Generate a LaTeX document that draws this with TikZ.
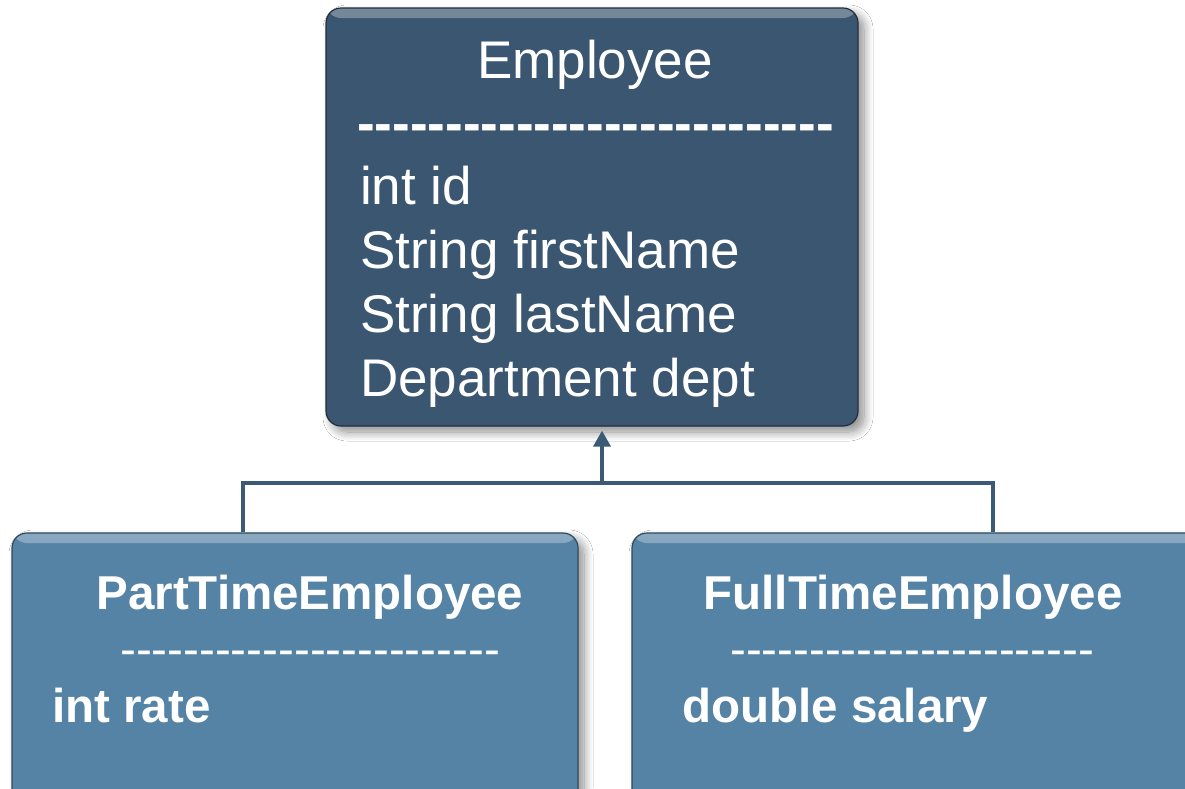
\documentclass[tikz,border=0pt]{standalone}
\usepackage{fontspec}
\setmainfont{Liberation Sans}
\usetikzlibrary{arrows.meta,shadows.blur}
\definecolor{baseDark}{HTML}{3A5670}
\definecolor{baseLight}{HTML}{5583A5}
\definecolor{linkCol}{HTML}{3A5A76}
% a row of separate hyphens (no dash ligatures)
\newcount\hycount
\newcommand\hyphenrow[1]{\hycount=0 \loop -{}\advance\hycount by 1 \ifnum\hycount<#1\repeat}
\tikzset{
  classbox/.style={rounded corners=15pt, draw=#1!55!black, line width=1.2pt, fill=#1,
    blur shadow={shadow xshift=6pt, shadow yshift=-6pt, shadow blur steps=14, shadow blur radius=9pt, shadow opacity=45},
    path picture={\shade[top color=#1!70!white, bottom color=#1]
      (path picture bounding box.north west) rectangle ([yshift=-10pt]path picture bounding box.north east);},
    inner sep=0pt},
  bigtxt/.style={text=white, inner sep=0pt, font=\fontsize{53}{64}\selectfont},
  subtxt/.style={text=white, inner sep=0pt, font=\fontsize{47.5}{57}\selectfont\bfseries},
  link/.style={draw=linkCol, line width=3.5pt}
}
\begin{document}
\begin{tikzpicture}[x=1pt, y=-1pt]
\clip (0,0) rectangle (1185,788);
\fill[white] (0,0) rectangle (1185,788);

% class boxes
\node[classbox=baseDark, minimum width=532pt, minimum height=418pt] (emp) at (592,217) {};
\node[classbox=baseLight, minimum width=566pt, minimum height=280pt] (pt) at (295,673) {};
\node[classbox=baseLight, minimum width=570pt, minimum height=280pt] (ft) at (917,673) {};

% Employee contents
\node[bigtxt, anchor=base] (empT) at (595,78) {Employee};
\node[bigtxt, anchor=base west, font=\fontsize{53}{64}\selectfont\bfseries] (empD) at (357,141) {\hyphenrow{27}};
\node[bigtxt, anchor=base west] (empA) at (360,204) {int id};
\node[bigtxt, anchor=base west] (empB) at (360,268) {String firstName};
\node[bigtxt, anchor=base west] (empC) at (360,332) {String lastName};
\node[bigtxt, anchor=base west] (empE) at (360,396) {Department dept};

% PartTimeEmployee contents
\node[subtxt, anchor=base] (ptT) at (310,609) {PartTimeEmployee};
\node[subtxt, anchor=base west, font=\fontsize{47.5}{57}\selectfont] (ptD) at (120,665) {\hyphenrow{24}};
\node[subtxt, anchor=base west] (ptA) at (52,722) {int rate};

% FullTimeEmployee contents
\node[subtxt, anchor=base] (ftT) at (913,609) {FullTimeEmployee};
\node[subtxt, anchor=base west, font=\fontsize{47.5}{57}\selectfont] (ftD) at (730,665) {\hyphenrow{23}};
\node[subtxt, anchor=base west] (ftA) at (682,722) {double salary};

% inheritance connector
\coordinate (jL) at (243,483);
\coordinate (jR) at (993,483);
\coordinate (jM) at (602,483);
\draw[link] (pt.north -| jL) -- (jL) -- (jR) -- (ft.north -| jR);
\draw[link, -{Triangle[width=17pt,length=16pt]}] (jM) -- ([yshift=-4pt]emp.south -| jM);
\end{tikzpicture}
\end{document}
